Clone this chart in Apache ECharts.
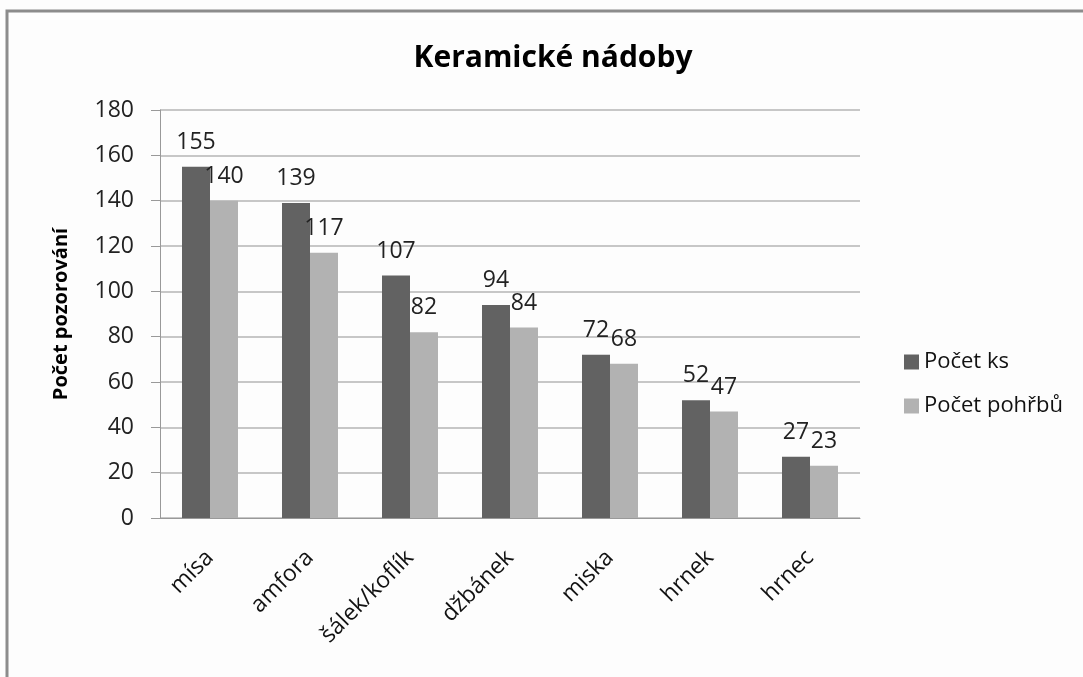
<!DOCTYPE html>
<html>
<head>
<meta charset="utf-8">
<script src="https://cdn.jsdelivr.net/npm/echarts@6/dist/echarts.min.js"></script>
<style>
	html,body{margin:0;padding:0;background:#fdfdfd;}
	#main{width:1083px;height:677px;}
</style>
</head>
<body>
	<div id="main"></div>
	<script>
		// data
		var categories = ['mísa', 'amfora', 'šálek/koflík', 'džbánek', 'miska', 'hrnek', 'hrnec'];
		var pocetKs = [155, 139, 107, 94, 72, 52, 27];
		var pocetPohrbu = [140, 117, 82, 84, 68, 47, 23];
		var seriesNames = ['Počet ks', 'Počet pohřbů'];

		var font = 'Open Sans';
		var myChart = echarts.init(document.getElementById('main'));
		var option = {
			backgroundColor: '#fdfdfd',
			textStyle: {fontFamily: font},
			graphic: [{
				type: 'polyline',
				shape: {points: [[7, 700], [7, 11], [1100, 11]]},
				style: {stroke: '#8c8c8c', lineWidth: 3, fill: null}
			}],
			title: {
				text: 'Keramické nádoby',
				left: 548, top: 38, textAlign: 'center',
				textStyle: {fontSize: 30, fontWeight: 'bold', color: '#000', fontFamily: font}
			},
			legend: {
				orient: 'vertical',
				left: 899, top: 346,
				itemWidth: 15, itemHeight: 15, itemGap: 22,
				icon: 'rect',
				textStyle: {fontSize: 22, color: '#111', fontFamily: font},
				data: seriesNames
			},
			grid: {left: 160, right: 223, top: 110, bottom: 159},
			xAxis: {
				type: 'category',
				data: categories,
				axisLine: {lineStyle: {color: '#999'}},
				axisTick: {show: false},
				axisLabel: {rotate: 45, fontSize: 23, color: '#111', margin: 36, fontFamily: font}
			},
			yAxis: {
				type: 'value',
				min: 0, max: 180, interval: 20,
				name: 'Počet pozorování',
				nameLocation: 'middle',
				nameGap: 89,
				nameTextStyle: {fontSize: 20, fontWeight: 'bold', color: '#000', fontFamily: font},
				axisLine: {show: true, lineStyle: {color: '#999'}},
				axisTick: {show: true, length: 9, lineStyle: {color: '#999'}},
				axisLabel: {fontSize: 23, color: '#222', margin: 26, fontFamily: font},
				splitLine: {lineStyle: {color: '#b4b4b4', width: 1.5}}
			},
			series: [{
				name: seriesNames[0],
				type: 'bar',
				data: pocetKs,
				barWidth: 28,
				barGap: '0%',
				itemStyle: {color: '#626262'},
				label: {show: true, position: 'top', distance: 13, fontSize: 23, color: '#222', fontFamily: font}
			}, {
				name: seriesNames[1],
				type: 'bar',
				data: pocetPohrbu,
				barWidth: 28,
				itemStyle: {color: '#b2b2b2'},
				label: {show: true, position: 'top', distance: 13, fontSize: 23, color: '#222', fontFamily: font}
			}]
		};
		myChart.setOption(option);
	</script>
</body>
</html>
